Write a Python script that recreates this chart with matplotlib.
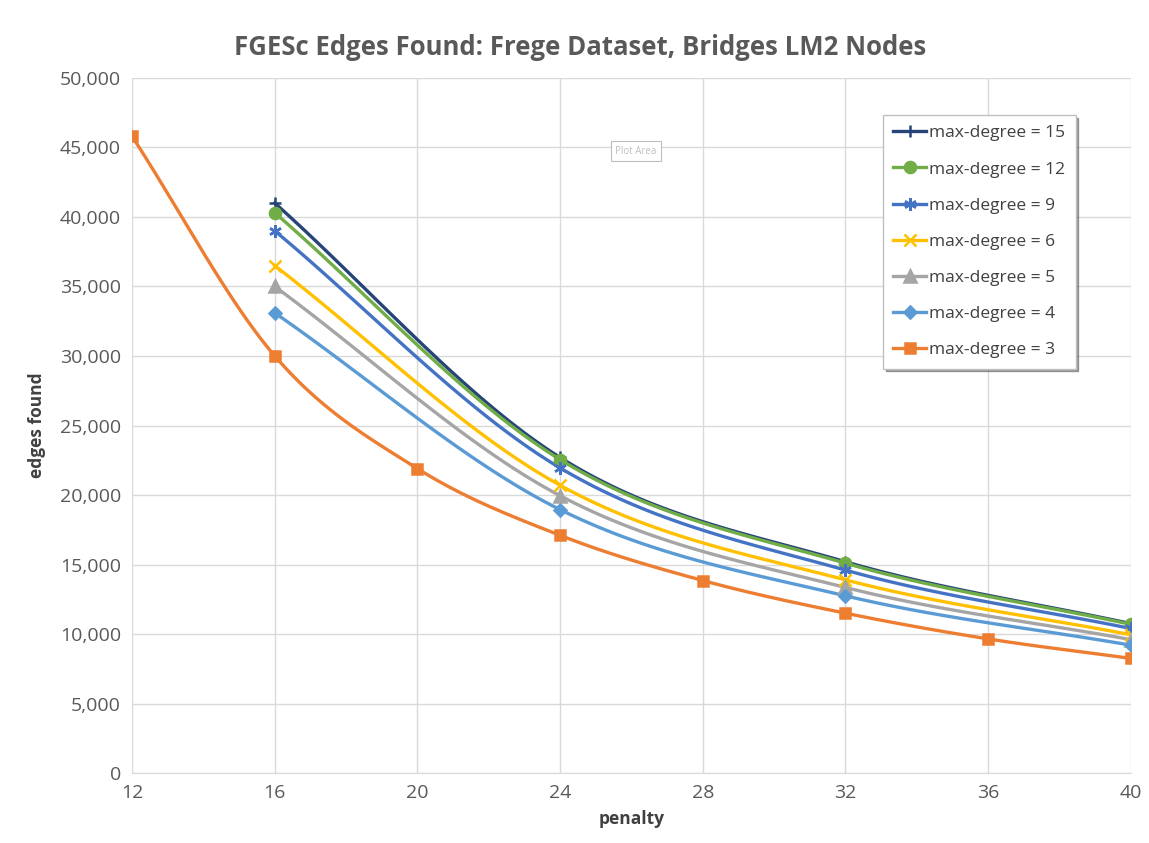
import numpy as np
import matplotlib
matplotlib.use("Agg")
import matplotlib.pyplot as plt

# data
penalty_hi = [16, 24, 32, 40]
penalty_d3 = [12, 16, 20, 24, 28, 32, 36, 40]
deg15 = [41000, 22700, 15200, 10750]
deg12 = [40300, 22550, 15100, 10700]
deg9 = [39000, 21950, 14600, 10400]
deg6 = [36500, 20700, 13900, 9950]
deg5 = [35000, 19950, 13350, 9600]
deg4 = [33100, 18950, 12750, 9200]
deg3 = [45800, 30000, 21900, 17100, 13850, 11500, 9650, 8250]

series = [
    ("max-degree = 15", penalty_hi, deg15, "#264478", "+", 9),
    ("max-degree = 12", penalty_hi, deg12, "#70AD47", "o", 8),
    ("max-degree = 9", penalty_hi, deg9, "#4472C4", (6, 2, 0), 9),
    ("max-degree = 6", penalty_hi, deg6, "#FFC000", "x", 8),
    ("max-degree = 5", penalty_hi, deg5, "#A5A5A5", "^", 8),
    ("max-degree = 4", penalty_hi, deg4, "#5B9BD5", "D", 6),
    ("max-degree = 3", penalty_d3, deg3, "#ED7D31", "s", 7),
]


def smooth(x, y, n=40):
    """Catmull-Rom curve through the points (like Excel's smoothed line)."""
    x = np.asarray(x, float); y = np.asarray(y, float)
    px = np.concatenate([[2 * x[0] - x[1]], x, [2 * x[-1] - x[-2]]])
    py = np.concatenate([[2 * y[0] - y[1]], y, [2 * y[-1] - y[-2]]])
    xs, ys = [], []
    t = np.linspace(0, 1, n)
    for i in range(1, len(px) - 2):
        for p, out in ((px, xs), (py, ys)):
            p0, p1, p2, p3 = p[i - 1], p[i], p[i + 1], p[i + 2]
            out.extend(0.5 * (2 * p1 + (-p0 + p2) * t
                              + (2 * p0 - 5 * p1 + 4 * p2 - p3) * t ** 2
                              + (-p0 + 3 * p1 - 3 * p2 + p3) * t ** 3))
    return np.array(xs), np.array(ys)


plt.rcParams["font.family"] = ["Open Sans", "DejaVu Sans"]
fig = plt.figure(figsize=(11.49, 8.43), dpi=100)
ax = fig.add_axes([0.115, 0.083, 0.869, 0.8245])

for label, xv, yv, c, m, ms in series:
    sx, sy = smooth(xv, yv)
    ax.plot(sx, sy, color=c, lw=2.4, zorder=3)
    ax.plot(xv, yv, ls="none", marker=m, ms=ms, color=c, mec=c, mew=1.8, zorder=4)
    ax.plot([], [], color=c, lw=2.4, marker=m, ms=ms, mec=c, mew=1.8, label=label)

ax.set_xlim(12, 40)
ax.set_ylim(0, 50000)
ax.set_xticks(range(12, 41, 4))
ax.set_yticks(range(0, 50001, 5000))
ax.yaxis.set_major_formatter(matplotlib.ticker.FuncFormatter(lambda v, p: f"{int(v):,}"))
ax.grid(True, color="#D9D9D9", lw=1)
ax.set_axisbelow(True)
for s in ("top", "right", "left"):
    ax.spines[s].set_visible(False)
ax.spines["bottom"].set_color("#D9D9D9")
ax.tick_params(length=0, labelsize=14, colors="#595959", pad=8)
ax.set_xlabel("penalty", fontsize=12.5, fontweight="bold", color="#404040", labelpad=6)
ax.set_ylabel("edges found", fontsize=12.5, fontweight="bold", color="#404040", labelpad=10)
fig.text(0.505, 0.944, "FGESc Edges Found: Frege Dataset, Bridges LM2 Nodes",
         ha="center", va="center", fontsize=18.5, fontweight="bold", color="#595959")

leg = ax.legend(loc="upper left", bbox_to_anchor=(0.752, 0.947), fontsize=12.5,
                frameon=True, fancybox=False, shadow=True, labelspacing=1.15,
                handlelength=1.9, borderpad=0.6, handletextpad=0.15, borderaxespad=0)
leg.get_frame().set_edgecolor("#BFBFBF")
for t in leg.get_texts():
    t.set_color("#404040")

ax.text(0.484, 0.891, "Plot Area", transform=ax.transAxes, fontsize=7, color="#C0C0C0",
        bbox=dict(boxstyle="square,pad=0.45", fc="white", ec="#BFBFBF", lw=0.8))

fig.savefig("out.png", dpi=100)
